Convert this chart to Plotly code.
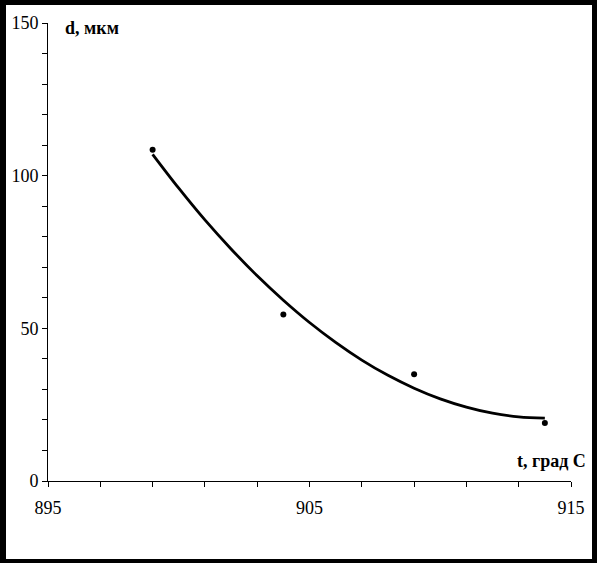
import plotly.graph_objects as go

# measured points
t_points = [899, 904, 909, 914]
d_points = [108.5, 54.5, 35.0, 19.0]

# trend curve
t_curve = [899, 900, 901, 902, 903, 904, 905, 906, 907, 908, 909, 910, 911, 912, 913, 914]
d_curve = [107.0, 95.9, 85.5, 76.0, 67.2, 59.2, 51.9, 45.4, 39.6, 34.6, 30.4, 26.9, 24.2, 22.2, 21.0, 20.6]

x_tickvals = [895, 897, 899, 901, 903, 905, 907, 909, 911, 913, 915]
x_ticktext = ["895", "", "", "", "", "905", "", "", "", "", "915"]
y_tickvals = [0, 10, 20, 30, 40, 50, 60, 70, 80, 90, 100, 110, 120, 130, 140, 150]
y_ticktext = ["0", "", "", "", "", "50", "", "", "", "", "100", "", "", "", "", "150"]

y_title = "d, мкм"
x_title = "t, град С"

W, H = 597, 563
L, R, T, B = 48, 26, 23, 82
pw, ph = W - L - R, H - T - B

def px(x):
    return (x - L) / pw

def py(y):
    return (H - B - y) / ph

fig = go.Figure()
fig.add_trace(go.Scatter(x=t_curve, y=d_curve, mode="lines",
                         line=dict(color="black", width=2.8, shape="spline"),
                         hoverinfo="skip", showlegend=False))
fig.add_trace(go.Scatter(x=t_points, y=d_points, mode="markers",
                         marker=dict(color="black", size=6), showlegend=False))

font = dict(family="Liberation Serif, Times New Roman, serif", size=18, color="black")

def frame(x0, y0, x1, y1):
    return dict(type="rect", xref="paper", yref="paper",
                x0=px(x0), x1=px(x1), y0=py(y1), y1=py(y0),
                line=dict(width=0), fillcolor="black", layer="above")

fig.update_layout(
    width=W, height=H,
    margin=dict(l=L, r=R, t=T, b=B),
    paper_bgcolor="white", plot_bgcolor="white",
    font=font,
    xaxis=dict(range=[895, 915], showgrid=False, zeroline=False,
               showline=True, linecolor="black", linewidth=1,
               ticks="outside", ticklen=5, tickcolor="black", tickwidth=1,
               tickvals=x_tickvals, ticktext=x_ticktext, ticklabelstandoff=5),
    yaxis=dict(range=[0, 150], showgrid=False, zeroline=False,
               showline=True, linecolor="black", linewidth=1,
               ticks="outside", ticklen=5, tickcolor="black", tickwidth=1,
               tickvals=y_tickvals, ticktext=y_ticktext),
    annotations=[
        dict(text="<b>" + y_title + "</b>", xref="paper", yref="paper",
             x=px(63), y=py(28), xanchor="left", yanchor="middle",
             showarrow=False, font=font),
        dict(text="<b>" + x_title + "</b>", xref="paper", yref="paper",
             x=px(588), y=py(461), xanchor="right", yanchor="middle",
             showarrow=False, font=font),
    ],
    shapes=[frame(0, 0, 6, H), frame(0, 0, W, 5),
            frame(W - 5, 0, W, H), frame(0, H - 4, W, H)],
)

fig.write_html("out.html", config={"displayModeBar": False},
               post_script="document.body.style.margin='0px';document.body.style.overflow='hidden';")
